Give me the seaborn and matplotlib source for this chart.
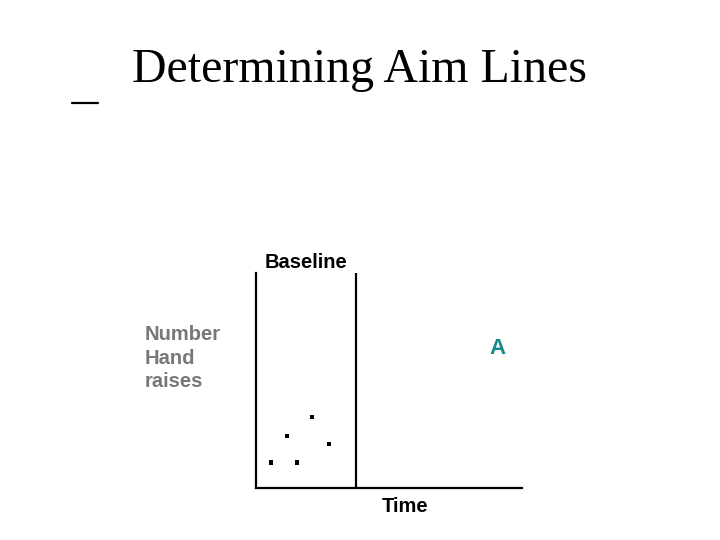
import matplotlib
matplotlib.use("Agg")
import matplotlib.pyplot as plt
import seaborn as sns
import pandas as pd

# Baseline observations (session, number of hand raises)
sessions = [1.1, 2.3, 3.1, 4.2, 5.5]
hand_raises = [1.9, 3.9, 1.9, 5.3, 3.3]
baseline_end = 7.5

title = "Determining Aim Lines"
phase_label = "Baseline"
y_label = "Number\nHand\nraises"
x_label = "Time"
aim_label = "A"

df = pd.DataFrame({"session": sessions, "raises": hand_raises})

sns.set_theme(style="white")
plt.rcParams["font.family"] = ["Liberation Sans", "DejaVu Sans"]
plt.rcParams["text.color"] = "black"

fig = plt.figure(figsize=(7.2, 5.4), dpi=100)
ax = fig.add_axes([256 / 720, 52 / 540, 266 / 720, 215 / 540])

sns.scatterplot(data=df, x="session", y="raises", ax=ax, marker="s",
                s=9, color="black", edgecolor="none", legend=False)

# divider between baseline and intervention
ax.axvline(baseline_end, color="black", lw=1.6)

ax.set_xlim(0, 20)
ax.set_ylim(0, 16)
ax.set_xticks([])
ax.set_yticks([])
ax.set_xlabel("")
ax.set_ylabel("")
for side in ["top", "right"]:
    ax.spines[side].set_visible(False)
for side in ["left", "bottom"]:
    ax.spines[side].set_color("black")
    ax.spines[side].set_linewidth(1.6)

# text
fig.text(359 / 720, 1 - 70 / 540, title, ha="center", va="center",
         fontsize=34.5, family=["Liberation Serif", "DejaVu Serif"])
fig.add_artist(plt.Line2D([72 / 720, 98 / 720], [1 - 103 / 540, 1 - 103 / 540],
                          color="black", lw=1.6))
fig.text(306 / 720, 1 - 262 / 540, phase_label, ha="center", va="center",
         fontsize=14.5, fontweight="bold")
fig.text(145 / 720, 1 - 358 / 540, y_label, ha="left", va="center",
         fontsize=14.5, fontweight="bold", color="#777777", linespacing=1.3)
fig.text(497 / 720, 1 - 348 / 540, aim_label, ha="center", va="center",
         fontsize=16, fontweight="bold", color="#178a8a")
fig.text(405 / 720, 1 - 507 / 540, x_label, ha="center", va="center",
         fontsize=14.5, fontweight="bold")

fig.savefig("out.png", dpi=100)
